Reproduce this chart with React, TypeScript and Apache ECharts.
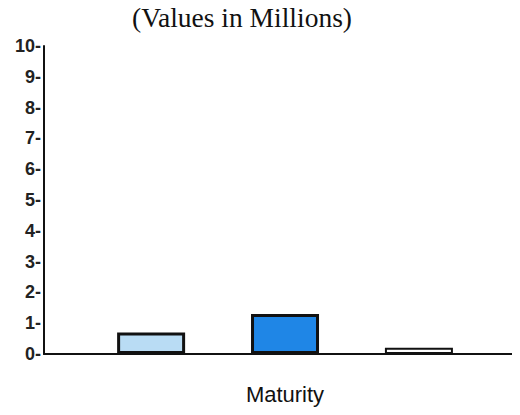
import React, { useEffect, useRef } from "react";
import * as echarts from "echarts";

const categories = ["A", "B", "C"];
const positions = [1, 2, 3];
const values = [0.7, 1.3, 0.2];
const barColors = ["#b9dcf4", "#1f86e6", "#ffffff"];
const barBorders = [3, 3, 2];
const yTicks = [0, 1, 2, 3, 4, 5, 6, 7, 8, 9, 10];

export default function App() {
  const ref = useRef<HTMLDivElement>(null);
  useEffect(() => {
    const chart = echarts.init(ref.current!, null, { renderer: "svg" });
    chart.setOption({
      animation: false,
      backgroundColor: "#ffffff",
      title: {
        text: "(Values in Millions)",
        left: 237,
        top: -2,
        textAlign: "center",
        textStyle: { fontFamily: "Liberation Serif", fontSize: 27.5, fontWeight: "normal", color: "#111" },
      },
      grid: { left: 44, right: 2, top: 46, bottom: 61 },
      xAxis: {
        type: "value",
        min: 0.2,
        max: 3.74,
        name: "Maturity",
        nameLocation: "middle",
        nameGap: 29,
        nameTextStyle: { fontFamily: "Liberation Sans", fontSize: 22, color: "#111", padding: [0, 0, 0, 8] },
        axisLine: { show: true, lineStyle: { color: "#111", width: 2 } },
        axisTick: { show: false },
        axisLabel: { show: false },
        splitLine: { show: false },
      },
      yAxis: {
        type: "value",
        min: 0,
        max: 10,
        interval: 1,
        axisLine: { show: true, lineStyle: { color: "#111", width: 2 } },
        axisTick: { show: false },
        splitLine: { show: false },
        axisLabel: {
          margin: 3,
          formatter: (v: number) => (yTicks.includes(v) ? `${v}-` : ""),
          fontFamily: "Liberation Sans",
          fontSize: 18,
          fontWeight: "bold",
          color: "#222",
        },
      },
      series: [
        {
          type: "bar",
          barWidth: 68,
          data: positions.map((p, i) => ({
            value: [p, values[i]],
            name: categories[i],
            itemStyle: { color: barColors[i], borderColor: "#111", borderWidth: barBorders[i] },
          })),
        },
      ],
    });
    return () => chart.dispose();
  }, []);
  return <div ref={ref} style={{ width: 520, height: 415, margin: -8 }} />;
}
